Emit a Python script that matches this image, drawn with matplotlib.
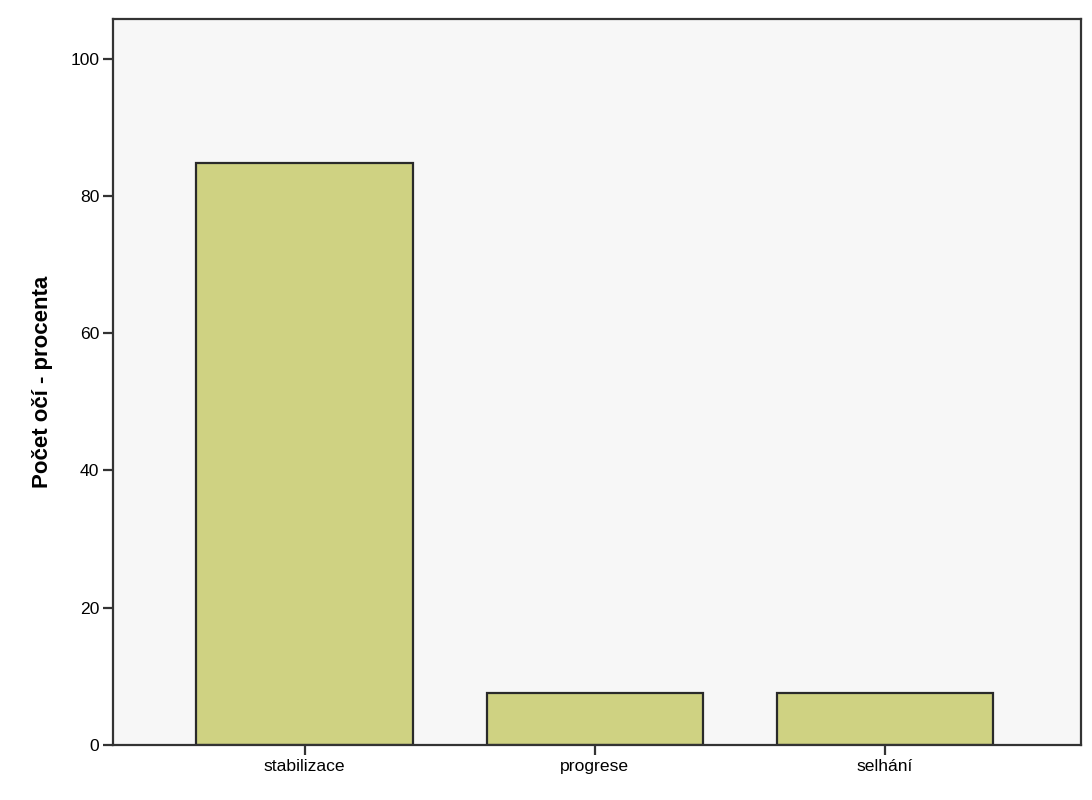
import matplotlib
matplotlib.use('Agg')
import matplotlib.pyplot as plt

# data
categories = ['stabilizace', 'progrese', 'selhání']
percent = [84.8, 7.6, 7.6]

plt.rcParams['font.family'] = ['Liberation Sans', 'DejaVu Sans']

fig = plt.figure(figsize=(10.92, 8), dpi=100)
ax = fig.add_axes([0.1035, 0.0688, 0.8864, 0.9075])
ax.set_facecolor('#f7f7f7')

x = range(len(categories))
ax.bar(x, percent, width=0.745, color='#cfd282', edgecolor='#2a2a2a', linewidth=1.6)

ax.set_xlim(-0.66, 2.675)
ax.set_ylim(0, 105.8)
ax.set_yticks([0, 20, 40, 60, 80, 100])
ax.set_xticks(list(x))
ax.set_xticklabels(categories)

for s in ax.spines.values():
    s.set_color('#333333')
    s.set_linewidth(1.6)

ax.tick_params(axis='both', length=7, width=1.6, color='#333333', labelsize=12.6, pad=3)
ax.set_ylabel('Počet očí - procenta', fontsize=16, fontweight='bold', labelpad=12)

fig.savefig('out.png', dpi=100, facecolor='white')
